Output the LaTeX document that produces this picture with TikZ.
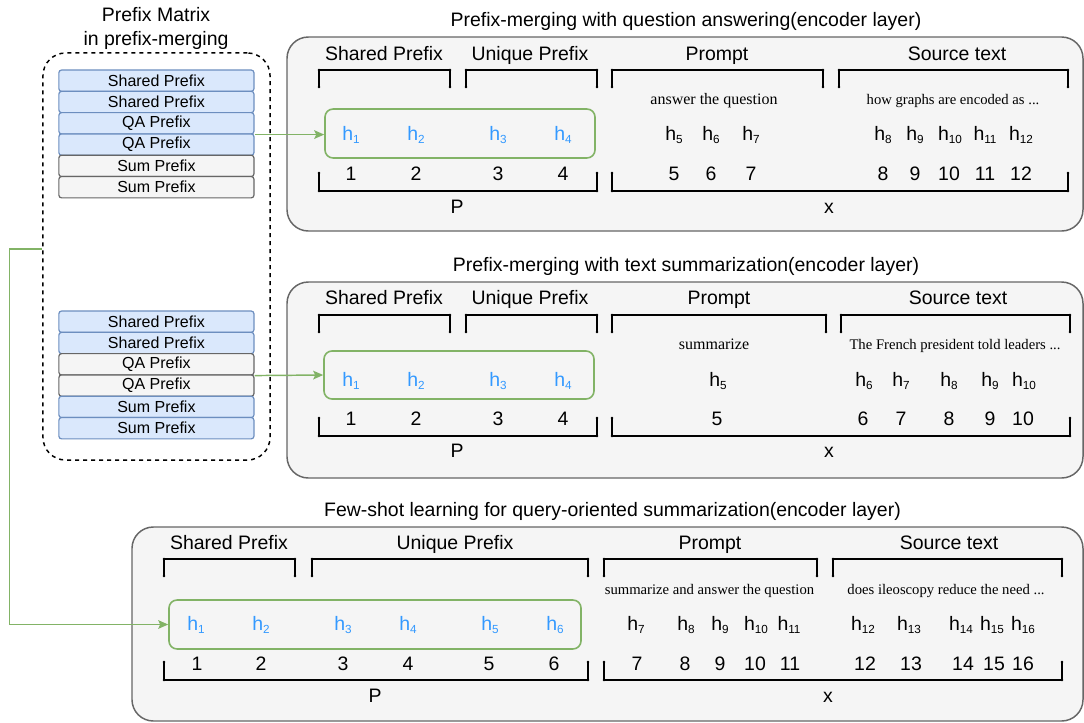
\documentclass[tikz,border=0pt]{standalone}
\usepackage{fontspec}
\setmainfont{Liberation Sans}
\newfontfamily\serifrm{Liberation Serif}
\usetikzlibrary{arrows.meta}

\definecolor{panelfill}{HTML}{F5F5F5}
\definecolor{panelline}{HTML}{666666}
\definecolor{bluefill}{HTML}{DAE8FC}
\definecolor{blueline}{HTML}{6C8EBF}
\definecolor{greyfill}{HTML}{F5F5F5}
\definecolor{greenline}{HTML}{82B366}
\definecolor{tokblue}{HTML}{3399FF}

% subscript of a hidden-state label
\newcommand\tsub[1]{\raisebox{-2.6pt}{\fontsize{8.8}{10}\selectfont #1}}

% bracket opening downwards (header side) and upwards (index side)
\newcommand\brkdown[3]{%
  \draw[brk] (#1,#3+17) -- (#1,#3) -- (#2,#3) -- (#2,#3+17);
  \fill (#1,#3) circle[radius=1.1pt]; \fill (#2,#3) circle[radius=1.1pt];
  \fill (#1,#3+17) circle[radius=1.1pt]; \fill (#2,#3+17) circle[radius=1.1pt];}
\newcommand\brkup[3]{%
  \draw[brk] (#1,#3-18) -- (#1,#3) -- (#2,#3) -- (#2,#3-18);
  \fill (#1,#3) circle[radius=1.1pt]; \fill (#2,#3) circle[radius=1.1pt];
  \fill (#1,#3-18) circle[radius=1.1pt]; \fill (#2,#3-18) circle[radius=1.1pt];}

\begin{document}
\begin{tikzpicture}[x=0.75pt,y=-0.75pt,
  panel/.style={draw=panelline, fill=panelfill, line width=1.1pt, rounded corners=16pt},
  title/.style={anchor=base, inner sep=0pt, font=\fontsize{14.6}{17}\selectfont},
  head/.style={anchor=base, inner sep=0pt, font=\fontsize{14.6}{17}\selectfont},
  tok/.style={anchor=base, inner sep=0pt, font=\fontsize{14.6}{17}\selectfont},
  htok/.style={tok, text=tokblue},
  prompttxt/.style={anchor=base, inner sep=0pt, font=\serifrm\fontsize{12}{14}\selectfont},
  srctxt/.style={anchor=base, inner sep=0pt, font=\serifrm\fontsize{11}{13}\selectfont},
  brk/.style={draw=black, line width=1.3pt, line cap=round, line join=round},
  rowbase/.style={minimum width=146.3pt, minimum height=16pt, inner sep=0pt,
    rounded corners=2pt, line width=0.9pt, font=\fontsize{12}{14}\selectfont},
  rowblue/.style={rowbase, draw=blueline, fill=bluefill},
  rowgrey/.style={rowbase, draw=panelline, fill=greyfill},
  prefbox/.style={draw=greenline, line width=1.2pt, rounded corners=6pt, inner sep=0pt},
  link/.style={draw=greenline, line width=1.1pt, -{Stealth[length=7.5pt, width=6.5pt, inset=1.5pt]}},
  matbox/.style={draw=black, dashed, dash pattern=on 3pt off 3pt, line width=1.1pt,
    rounded corners=17pt, minimum width=170.3pt, minimum height=305.3pt, inner sep=0pt}
]
\useasboundingbox (0,0) rectangle (1084,722);

% ---------- prefix matrix ----------
\node[title] (mt1) at (156,21) {Prefix Matrix};
\node[title] (mt2) at (156,45) {in prefix-merging};
\node[matbox] (pm) at (156.5,256.5) {};

\node[rowblue] (ma1) at (156.4,80.7)  {Shared Prefix};
\node[rowblue] (ma2) at (156.4,102)   {Shared Prefix};
\node[rowblue] (ma3) at (156.4,123.3) {QA Prefix};
\node[rowblue] (ma4) at (156.4,144.6) {QA Prefix};
\node[rowgrey] (ma5) at (156.4,165.9) {Sum Prefix};
\node[rowgrey] (ma6) at (156.4,187.2) {Sum Prefix};

\node[rowblue] (mb1) at (156.4,321.7) {Shared Prefix};
\node[rowblue] (mb2) at (156.4,343)   {Shared Prefix};
\node[rowgrey] (mb3) at (156.4,364.3) {QA Prefix};
\node[rowgrey] (mb4) at (156.4,385.6) {QA Prefix};
\node[rowblue] (mb5) at (156.4,406.9) {Sum Prefix};
\node[rowblue] (mb6) at (156.4,428.2) {Sum Prefix};

% ---------- panel 1: question answering ----------
\node[title] (t1) at (686,26.5) {Prefix-merging with question answering(encoder layer)};
\draw[panel] (287,37) rectangle (1083,231);
\node[head] (a-sp) at (384,60.5) {Shared Prefix};
\node[head] (a-up) at (530,60.5) {Unique Prefix};
\node[head] (a-pr) at (717,60.5) {Prompt};
\node[head] (a-st) at (957,60.5) {Source text};
\brkdown{319}{450}{70}\brkdown{466}{597}{70}\brkdown{612}{823}{70}\brkdown{839}{1068}{70}
\node[prompttxt] (a-q) at (714,104) {answer the question};
\node[srctxt] (a-s) at (953,104) {how graphs are encoded as ...};
\node[prefbox, minimum width=202.5pt, minimum height=36.7pt] (g1) at (460,133.5) {};
\foreach \x/\s in {351/1,416/2,498/3,563/4}
  \node[htok] (a-h\s) at (\x,140) {h\tsub{\s}};
\foreach \x/\s in {674/5,711/6,751/7,883/8,915/9,950/10,985/11,1021/12}
  \node[tok] (a-h\s) at (\x,140) {h\tsub{\s}};
\foreach \x/\s in {351/1,416/2,498/3,563/4,674/5,711/6,751/7,883/8,915/9,949/10,985/11,1021/12}
  \node[tok] (a-n\s) at (\x,180) {\s};
\brkup{319}{597}{191}\brkup{612}{1068}{191}
\node[tok] (a-P) at (457,213) {P};
\node[tok] (a-x) at (829,213) {x};

% ---------- panel 2: text summarization ----------
\node[title] (t2) at (686,271.5) {Prefix-merging with text summarization(encoder layer)};
\draw[panel] (287,282) rectangle (1083,478);
\node[head] (b-sp) at (384,304.5) {Shared Prefix};
\node[head] (b-up) at (530,304.5) {Unique Prefix};
\node[head] (b-pr) at (719,304.5) {Prompt};
\node[head] (b-st) at (958,304.5) {Source text};
\brkdown{319}{450}{315}\brkdown{466}{597}{315}\brkdown{612}{826}{315}\brkdown{841}{1070}{315}
\node[prompttxt] (b-q) at (714,349) {summarize};
\node[srctxt] (b-s) at (955,349) {The French president told leaders ...};
\node[prefbox, minimum width=202.5pt, minimum height=36pt] (g2) at (459,375) {};
\foreach \x/\s in {351/1,416/2,498/3,563/4}
  \node[htok] (b-h\s) at (\x,386) {h\tsub{\s}};
\foreach \x/\s in {718/5,864/6,901/7,949/8,990/9,1024/10}
  \node[tok] (b-h\s) at (\x,386) {h\tsub{\s}};
\foreach \x/\s in {351/1,416/2,498/3,563/4,717/5,863/6,901/7,949/8,990/9,1023/10}
  \node[tok] (b-n\s) at (\x,425) {\s};
\brkup{319}{597}{436}\brkup{612}{1070}{436}
\node[tok] (b-P) at (457,457) {P};
\node[tok] (b-x) at (829,457) {x};

% ---------- panel 3: query-oriented summarization ----------
\node[title] (t3) at (612.5,516.5) {Few-shot learning for query-oriented summarization(encoder layer)};
\draw[panel] (132,527) rectangle (1083,721);
\node[head] (c-sp) at (229,549.5) {Shared Prefix};
\node[head] (c-up) at (455,549.5) {Unique Prefix};
\node[head] (c-pr) at (710,549.5) {Prompt};
\node[head] (c-st) at (949,549.5) {Source text};
\brkdown{164}{295}{559}\brkdown{312}{588}{559}\brkdown{604}{817}{559}\brkdown{833}{1062}{559}
\node[srctxt] (c-q) at (709.5,594) {summarize and answer the question};
\node[srctxt] (c-s) at (946,594) {does ileoscopy reduce the need ...};
\node[prefbox, minimum width=309pt, minimum height=36.7pt] (g3) at (375,624.5) {};
\foreach \x/\s in {196/1,261/2,343/3,408/4,490/5,555/6}
  \node[htok] (c-h\s) at (\x,630) {h\tsub{\s}};
\foreach \x/\s in {636/7,686/8,720/9,756/10,789/11,863/12,909/13,961/14,992/15,1023/16}
  \node[tok] (c-h\s) at (\x,630) {h\tsub{\s}};
\foreach \x/\s in {197/1,261/2,343/3,408/4,489/5,554/6,637/7,685/8,720/9,755/10,790/11,865/12,911/13,963/14,994/15,1023/16}
  \node[tok] (c-n\s) at (\x,670) {\s};
\brkup{164}{588}{680}\brkup{604}{1062}{680}
\node[tok] (c-P) at (375,702) {P};
\node[tok] (c-x) at (828,702) {x};

% ---------- links from the prefix matrix ----------
\draw[link] (ma3.south east) -- (ma3.south east -| g1.west);
\draw[link] (mb3.south east) -- (g2.west);
\coordinate (bend) at (9.5,249);
\draw[link] (bend -| pm.west) -- (bend) |- (g3.west);
\end{tikzpicture}
\end{document}
